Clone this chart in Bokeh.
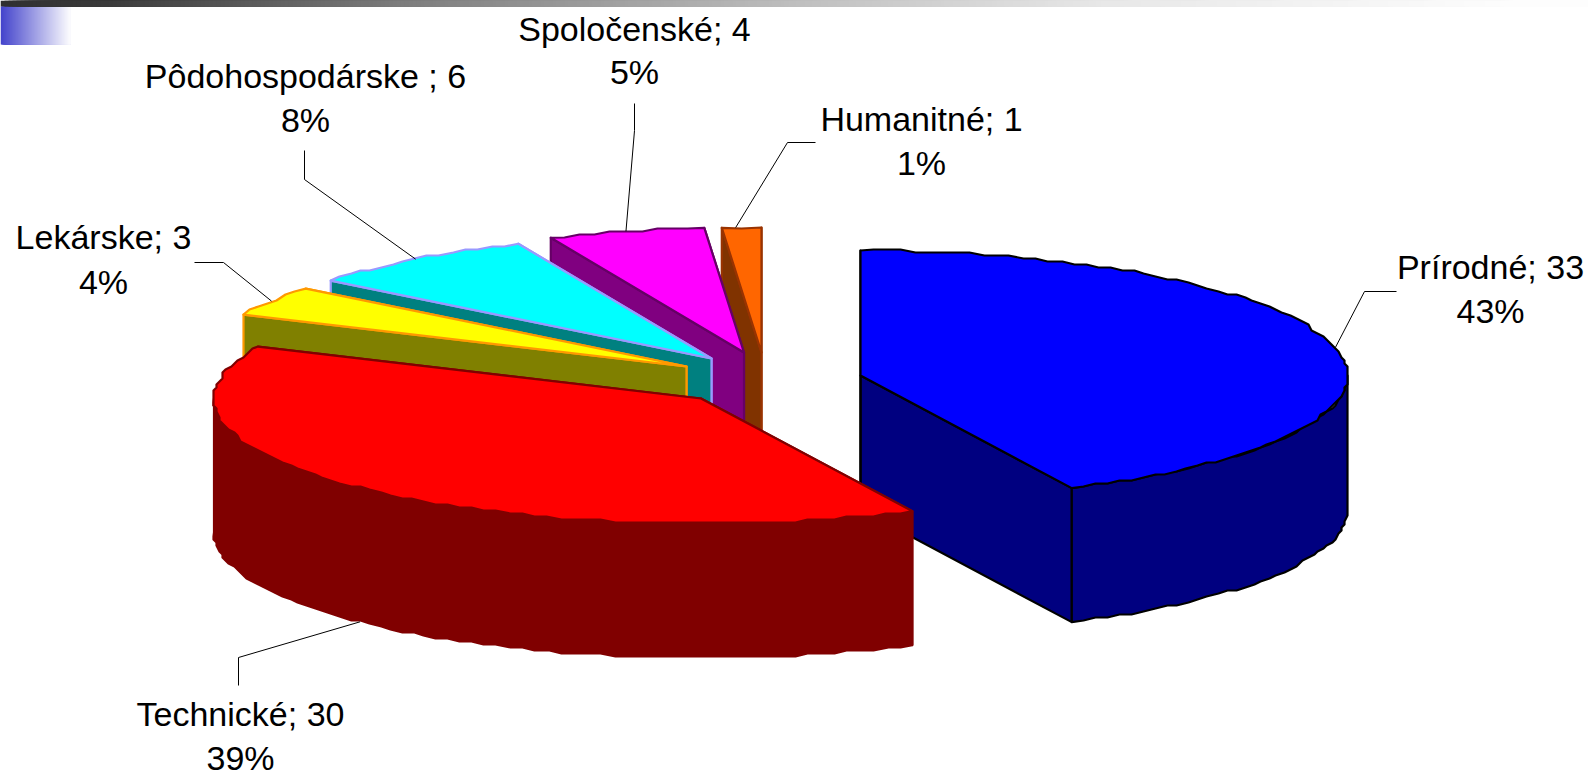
import numpy as np
from bokeh.plotting import figure
from bokeh.embed import file_html
from bokeh.resources import INLINE
from bokeh.core.properties import value

# ---- chart data -------------------------------------------------------
categories = ["Prírodné", "Technické", "Lekárske", "Pôdohospodárske ", "Spoločenské", "Humanitné"]
values = [33, 30, 3, 6, 4, 1]

# ---- styling ----------------------------------------------------------
top_colors = ["#0000FF", "#FF0000", "#FFFF00", "#00FFFF", "#FF00FF", "#FF6600"]
side_colors = ["#000080", "#800000", "#808000", "#008080", "#800080", "#803300"]
edge_colors = ["#000000", "#800000", "#FF9900", "#9999FF", "#660066", "#993300"]
edge_widths = [2.2, 2.2, 2.2, 2.2, 2.2, 2.2]

# layout of the exploded 3-D pie (page pixels)
centers = [(860, 375), (700.5, 398), (686, 366), (711, 358), (743.5, 352), (761, 352)]
RX, RY, DEPTH = 487, 125, 134
draw_order = [0, 5, 4, 3, 2, 1]

# label anchors: (centre x, line 1 y, line 2 y)
label_pos = [(1490, 266, 310), (240, 713, 757), (103, 236, 281),
             (305, 75, 119), (634, 28, 71), (921, 118, 162)]
# leader elbow points, the tip is computed from the slice's middle angle
leaders = [[(1396, 291), (1364, 291)], [(238, 685), (238, 657)], [(194, 262), (223, 262)],
           [(304, 150), (304, 179)], [(634, 103), (634, 130)], [(815, 142), (787, 142)]]
tip_dx = [0, 0, 0, 0, 0, -6]

FONT = "Liberation Sans"
FS = "34px"

p = figure(width=1588, height=773, x_range=(0, 1588), y_range=(773, 0),
           output_backend="svg", toolbar_location=None, min_border=0,
           outline_line_color=None, background_fill_color="white")
p.axis.visible = False
p.grid.visible = False
p.styles = {"position": "absolute", "left": "0px", "top": "0px"}

# ---- slide decoration --------------------------------------------------
edges2 = np.arange(0, 70, 1.0)
t2 = edges2 / 70
rr = (68 + 187 * t2).astype(int)
bb = (204 + 51 * t2).astype(int)
p.quad(left=edges2, right=70, top=6, bottom=44,
       fill_color=[f"#{r:02x}{r:02x}{b:02x}" for r, b in zip(rr, bb)], line_color=None)
edges = np.arange(0, 1588, 4)
g = np.interp(edges, [0, 100, 400, 788, 1100, 1500], [48, 58, 125, 190, 232, 253]).astype(int)
p.quad(left=edges, right=1588, top=0, bottom=6,
       fill_color=[f"#{v:02x}{v:02x}{v:02x}" for v in g], line_color=None)

# ---- pie ---------------------------------------------------------------
total = sum(values)
fracs = np.array(values) / total
ends = np.cumsum(fracs) * 2 * np.pi
starts = ends - fracs * 2 * np.pi


def arc(cx, cy, a0, a1):
    n = max(3, int((a1 - a0) / np.radians(1.6)))
    a = np.linspace(a0, a1, n)
    x = cx + RX * np.sin(a)
    y = cy - RY * np.cos(a)
    x[1:-1] = np.round(x[1:-1] / 3) * 3
    y[1:-1] = np.round(y[1:-1] / 3) * 3
    return x, y


for i in draw_order:
    cx, cy = centers[i]
    a0, a1 = starts[i], ends[i]
    side, edge, w = side_colors[i], edge_colors[i], edge_widths[i]
    # radial cut faces
    for a in (a1, a0):
        ex, ey = cx + RX * np.sin(a), cy - RY * np.cos(a)
        p.patch([cx, ex, ex, cx], [cy, ey, ey + DEPTH, cy + DEPTH], fill_color=side,
                line_color=edge, line_width=w, line_join="round")
    # outer wall: the part of the arc that faces the viewer
    w0, w1 = max(a0, np.pi / 2), min(a1, 3 * np.pi / 2)
    if w1 > w0:
        ax, ay = arc(cx, cy, w0, w1)
        p.patch(np.r_[ax, ax[::-1]], np.r_[ay, ay[::-1] + DEPTH], fill_color=side,
                line_color=edge, line_width=w, line_join="round")
    # top face
    ax, ay = arc(cx, cy, a0, a1)
    p.patch(np.r_[cx, ax], np.r_[cy, ay], fill_color=top_colors[i],
            line_color=edge, line_width=w, line_join="round")

# ---- leaders and labels ------------------------------------------------
for i, name in enumerate(categories):
    mid = (starts[i] + ends[i]) / 2
    cx, cy = centers[i]
    tx = cx + RX * np.sin(mid) + tip_dx[i]
    ty = cy - RY * np.cos(mid)
    if i == 1:
        ty += DEPTH
    (x0, y0), (x1, y1) = leaders[i]
    p.line([x0, x1, tx], [y0, y1, ty], line_color="black", line_width=1)
    lx, b1, b2 = label_pos[i]
    p.text([lx], [b1], text=[f"{name}; {values[i]}"], text_font=value(FONT), text_font_size=value(FS),
           text_align="center", text_baseline="alphabetic", text_color="black")
    p.text([lx], [b2], text=[f"{round(values[i] / total * 100)}%"], text_font=value(FONT),
           text_font_size=value(FS), text_align="center", text_baseline="alphabetic", text_color="black")

open("out.html", "w").write(file_html(p, INLINE))
